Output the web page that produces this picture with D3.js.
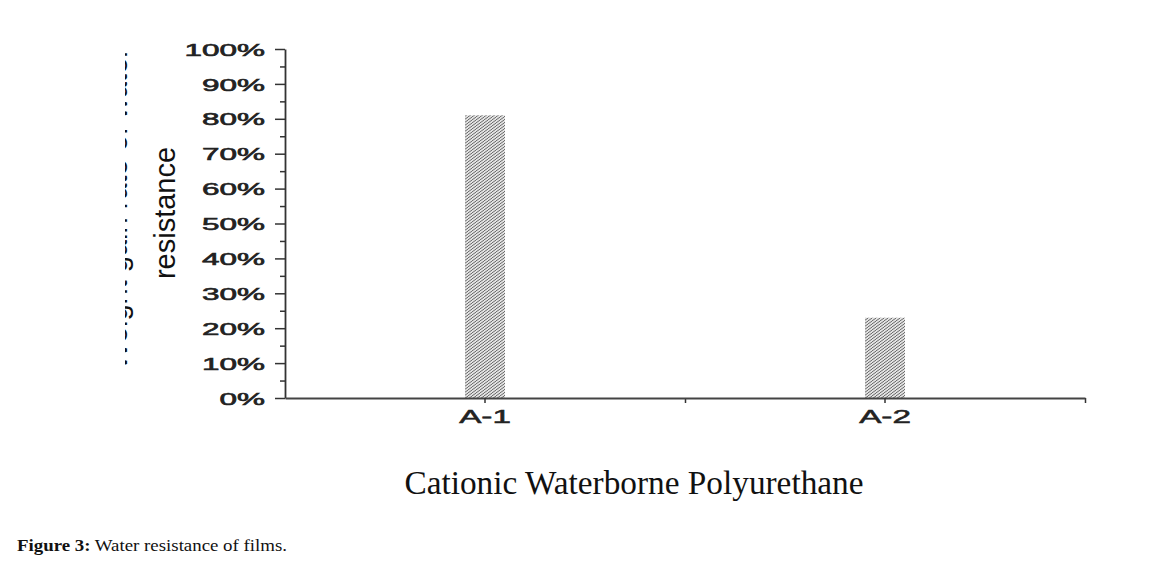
<!DOCTYPE html>
<html><head><meta charset="utf-8">
<script src="https://cdn.jsdelivr.net/npm/d3@7"></script>
<style>body{margin:0;background:#fff}</style>
</head><body>
<svg id="c" width="1174" height="569"></svg>
<script>
const categories = ["A-1", "A-2"];
const values = [0.81, 0.23];
const yTicks = [0,0.1,0.2,0.3,0.4,0.5,0.6,0.7,0.8,0.9,1.0];
const yMinor = [0.05,0.15,0.25,0.35,0.45,0.55,0.65,0.75,0.85,0.95];
const xTitle = "Cationic Waterborne Polyurethane";
const yTitleLines = ["Weight gain rate of water", "resistance"];

const svg = d3.select("#c");
const defs = svg.append("defs");
const pat = defs.append("pattern").attr("id","hatch").attr("patternUnits","userSpaceOnUse")
  .attr("width",4).attr("height",3);
pat.append("rect").attr("width",4).attr("height",3).attr("fill","#e2e2e2");
pat.append("path").attr("d","M-1,3.5 L5,-0.5").attr("stroke","#6d6d6d").attr("stroke-width",1);
defs.append("clipPath").attr("id","clipL").append("rect").attr("x",125).attr("y",0).attr("width",1049).attr("height",569);

const x = d3.scaleBand().domain(categories).range([285,1085]).paddingInner(0).paddingOuter(0);
const y = d3.scaleLinear().domain([0,1]).range([398,49]);
const xb = d3.scaleLinear().domain([0,categories.length]).range([285,1085]);

// bars
svg.append("g").selectAll("rect").data(values).join("rect")
  .attr("x",(d,i)=>x(categories[i])+x.bandwidth()/2-20)
  .attr("width",40)
  .attr("y",d=>y(d)).attr("height",d=>y(0)-y(d))
  .attr("fill","url(#hatch)");

function stretch(sel, f){
  sel.each(function(){ const w=this.getComputedTextLength(); d3.select(this).attr("textLength",w*f).attr("lengthAdjust","spacingAndGlyphs"); });
}

// y minor
svg.append("g").attr("transform","translate(285,0)")
  .call(d3.axisLeft(y).tickValues(yMinor).tickSize(5).tickFormat(""))
  .call(g=>g.select(".domain").remove())
  .selectAll("line").attr("stroke","#333").attr("stroke-width",1.5);
// y major
const ya = svg.append("g").attr("transform","translate(285,0)")
  .call(d3.axisLeft(y).tickValues(yTicks).tickSize(10).tickSizeOuter(0).tickPadding(10).tickFormat(d3.format(".0%")));
ya.select(".domain").attr("stroke","#333").attr("stroke-width",1.8);
ya.selectAll(".tick line").attr("stroke","#333").attr("stroke-width",1.5);
ya.selectAll("text").attr("font-family","Liberation Sans, Arial, sans-serif").attr("font-size",17).attr("fill","#222")
  .attr("stroke","#222").attr("stroke-width",0.6).attr("dy","0.36em").call(stretch,1.85);

// x minor boundary ticks
svg.append("g").attr("transform","translate(0,398)")
  .call(d3.axisBottom(xb).tickValues([1,2]).tickSize(5).tickFormat(""))
  .call(g=>g.select(".domain").remove())
  .selectAll("line").attr("stroke","#333").attr("stroke-width",1.5);
const xa = svg.append("g").attr("transform","translate(0,398)")
  .call(d3.axisBottom(x).tickSize(5).tickSizeOuter(0).tickPadding(8));
xa.select(".domain").attr("stroke","#444").attr("stroke-width",1.8);
xa.selectAll(".tick line").attr("stroke","#333").attr("stroke-width",1.5);
xa.selectAll("text").attr("font-family","Liberation Sans, Arial, sans-serif").attr("font-size",17.5).attr("fill","#222")
  .attr("stroke","#222").attr("stroke-width",0.5).call(stretch,1.9);

// y title
const yt = svg.append("g").attr("clip-path","url(#clipL)");
yt.append("text").attr("transform","translate(127,209) rotate(-90)").attr("text-anchor","middle")
  .attr("font-family","Liberation Sans, Arial, sans-serif").attr("font-size",29).attr("fill","#111").text(yTitleLines[0]);
svg.append("text").attr("transform","translate(175,213) rotate(-90)").attr("text-anchor","middle")
  .attr("font-family","Liberation Sans, Arial, sans-serif").attr("font-size",29).attr("fill","#111").text(yTitleLines[1]);

// x title
svg.append("text").attr("x",634).attr("y",494).attr("text-anchor","middle")
  .attr("font-family","Liberation Serif, Times New Roman, serif").attr("font-size",33.3).attr("fill","#111").text(xTitle);

// caption
const cap = svg.append("text").attr("x",17).attr("y",551).attr("font-family","Liberation Serif, serif").attr("font-size",17.5).attr("fill","#111")
  .attr("textLength",270).attr("lengthAdjust","spacingAndGlyphs");
cap.append("tspan").attr("font-weight","bold").text("Figure 3:");
cap.append("tspan").text(" Water resistance of films.");
</script>
</body></html>
